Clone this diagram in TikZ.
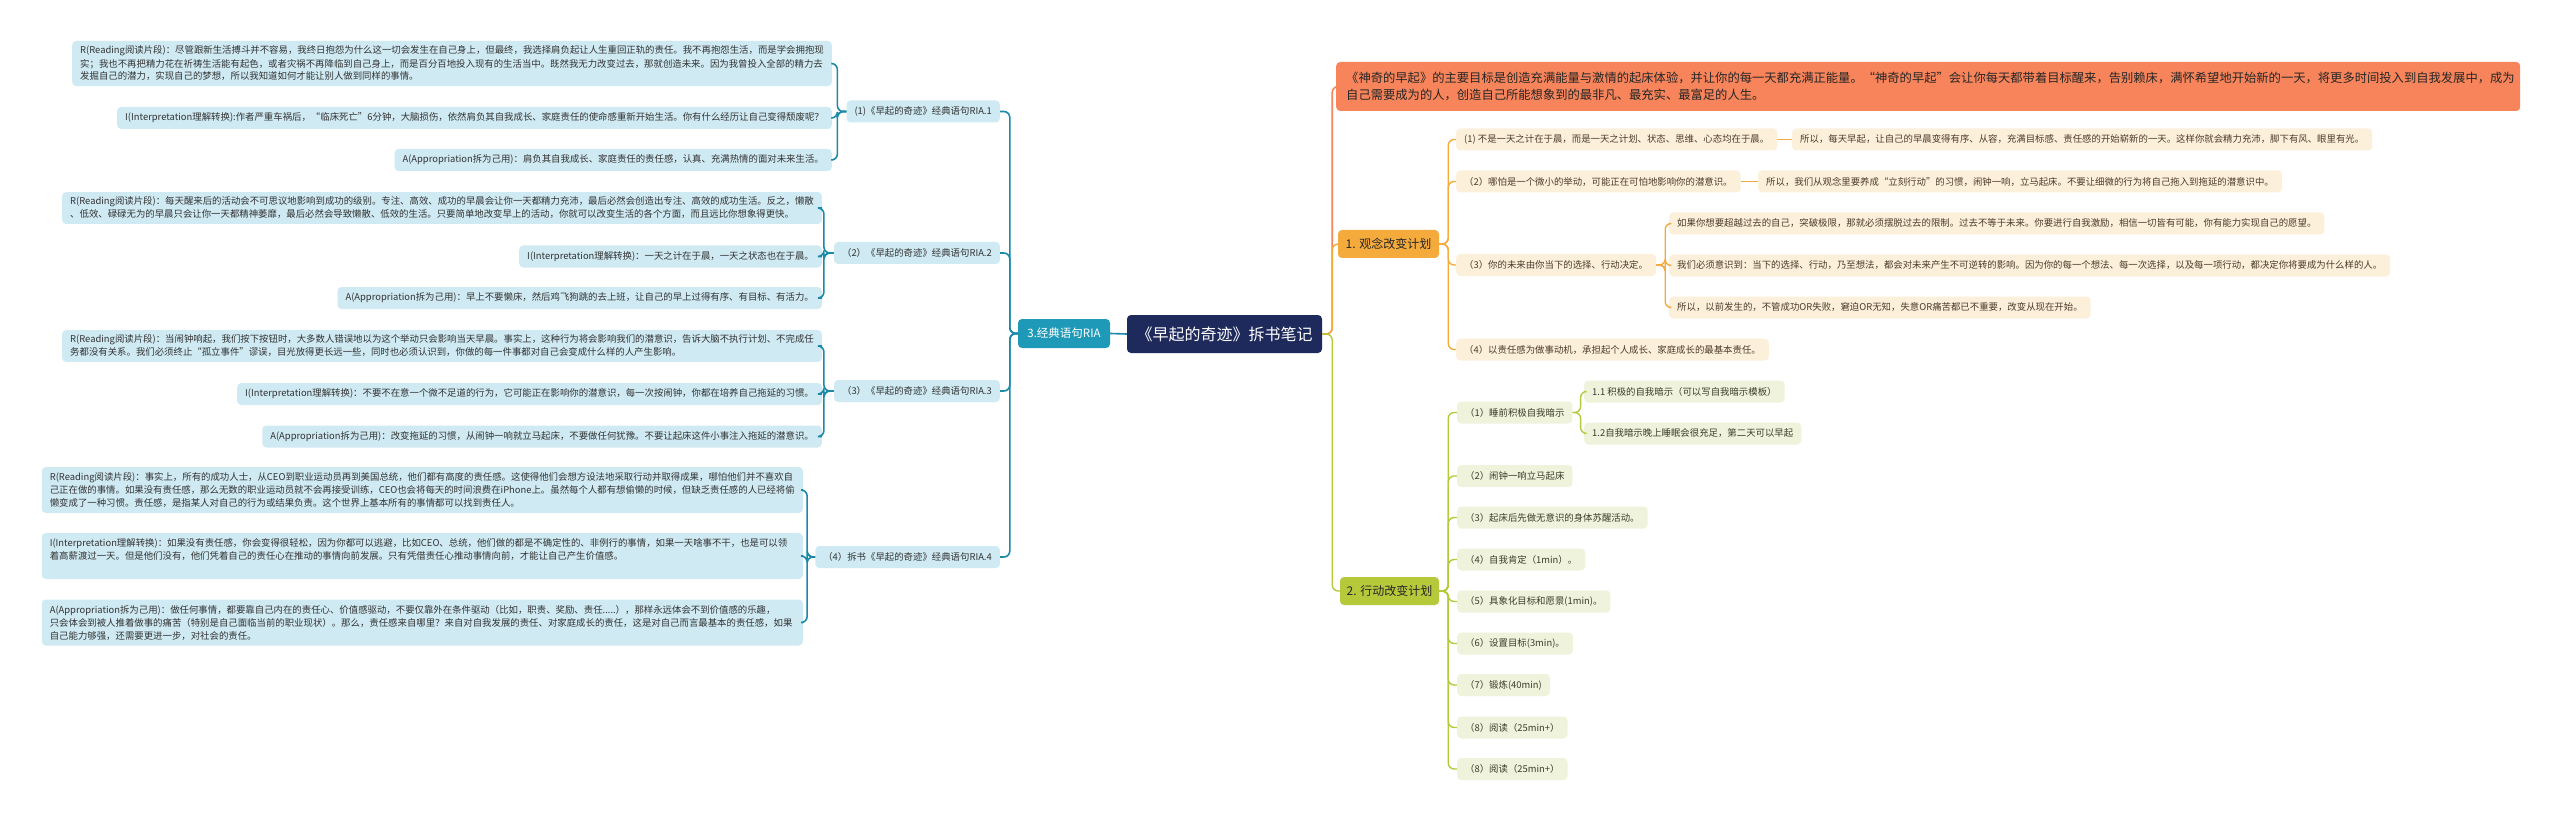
\documentclass[tikz,border=0pt]{standalone}
\usepackage{fontspec}
\newfontfamily\cjk{Noto Sans CJK SC}
\definecolor{cNavy}{HTML}{1F2A5C}
\definecolor{cTeal}{HTML}{1E9AB8}
\definecolor{cTealLine}{HTML}{1A8AA8}
\definecolor{cLeafBlue}{HTML}{CFEAF3}
\definecolor{cCoral}{HTML}{F7845A}
\definecolor{cAmber}{HTML}{F5AA3C}
\definecolor{cCream}{HTML}{FDF0DB}
\definecolor{cOlive}{HTML}{B5C93A}
\definecolor{cOliveLeaf}{HTML}{EFF3DC}
\definecolor{cTextB}{HTML}{333333}
\definecolor{cTextO}{HTML}{4A3B2A}
\definecolor{cTextG}{HTML}{3D3D2A}
\tikzset{
  nbox/.style={rounded corners=4pt, inner xsep=8pt, inner ysep=5pt, align=left},
  fs/.style={font=\cjk\fontsize{9.4}{13}\selectfont},
  leafB/.style={nbox, fs, fill=cLeafBlue, text=cTextB, minimum height=22pt},
  leafO/.style={nbox, fs, fill=cCream, text=cTextO, minimum height=22pt},
  leafG/.style={nbox, fs, fill=cOliveLeaf, text=cTextG, minimum height=22pt},
  lineT/.style={draw=cTealLine, line width=1.6pt, rounded corners=6pt},
  lineC/.style={draw=cCoral, line width=1.6pt, rounded corners=6pt},
  lineO/.style={draw=cAmber, line width=1.4pt, rounded corners=6pt},
  lineG/.style={draw=cOlive, line width=1.4pt, rounded corners=6pt},
}
\begin{document}
\begin{tikzpicture}[x=1pt,y=-1pt]
\useasboundingbox (0,0) rectangle (2560,821);
\fill[white] (0,0) rectangle (2560,821);

% ---------- centre ----------
\node[nbox, fill=cNavy, text=white, font=\cjk\fontsize{16}{19}\selectfont, minimum width=195pt, minimum height=38pt, align=center] (ctr) at (1224.5,334) {《早起的奇迹》拆书笔记};
\node[nbox, fill=cTeal, text=white, font=\cjk\fontsize{11.5}{14}\selectfont, minimum width=92pt, minimum height=29pt, align=center, inner xsep=4pt] (t3) at (1064,333.5) {3.经典语句RIA};

% ---------- left labels ----------
\node[leafB, anchor=east] (l1) at (1000,111.5) {(1)《早起的奇迹》经典语句RIA.1};
\node[leafB, anchor=east] (l2) at (1000,253) {（2）《早起的奇迹》经典语句RIA.2};
\node[leafB, anchor=east] (l3) at (1000,391) {（3）《早起的奇迹》经典语句RIA.3};
\node[leafB, anchor=east] (l4) at (1000,557) {（4）拆书《早起的奇迹》经典语句RIA.4};

% group 1
\node[leafB, anchor=east] (g1r) at (832,63.5) {R(Reading阅读片段)：尽管跟新生活搏斗并不容易，我终日抱怨为什么这一切会发生在自己身上，但最终，我选择肩负起让人生重回正轨的责任。我不再抱怨生活，而是学会拥抱现\\实；我也不再把精力花在祈祷生活能有起色，或者灾祸不再降临到自己身上，而是百分百地投入现有的生活当中。既然我无力改变过去，那就创造未来。因为我曾投入全部的精力去\\发掘自己的潜力，实现自己的梦想，所以我知道如何才能让别人做到同样的事情。};
\node[leafB, anchor=east] (g1i) at (832,118) {I(Interpretation理解转换):作者严重车祸后，“临床死亡”6分钟，大脑损伤，依然肩负其自我成长、家庭责任的使命感重新开始生活。你有什么经历让自己变得颓废呢？};
\node[leafB, anchor=east] (g1a) at (832,160) {A(Appropriation拆为己用)：肩负其自我成长、家庭责任的责任感，认真、充满热情的面对未来生活。};

% group 2
\node[leafB, anchor=east] (g2r) at (822,208) {R(Reading阅读片段)：每天醒来后的活动会不可思议地影响到成功的级别。专注、高效、成功的早晨会让你一天都精力充沛，最后必然会创造出专注、高效的成功生活。反之，懒散\\、低效、碌碌无为的早晨只会让你一天都精神萎靡，最后必然会导致懒散、低效的生活。只要简单地改变早上的活动，你就可以改变生活的各个方面，而且远比你想象得更快。};
\node[leafB, anchor=east] (g2i) at (822,256.5) {I(Interpretation理解转换)：一天之计在于晨，一天之状态也在于晨。};
\node[leafB, anchor=east] (g2a) at (822,298) {A(Appropriation拆为己用)：早上不要懒床，然后鸡飞狗跳的去上班，让自己的早上过得有序、有目标、有活力。};

% group 3
\node[leafB, anchor=east] (g3r) at (822,346) {R(Reading阅读片段)：当闹钟响起，我们按下按钮时，大多数人错误地以为这个举动只会影响当天早晨。事实上，这种行为将会影响我们的潜意识，告诉大脑不执行计划、不完成任\\务都没有关系。我们必须终止“孤立事件”谬误，目光放得更长远一些，同时也必须认识到，你做的每一件事都对自己会变成什么样的人产生影响。};
\node[leafB, anchor=east] (g3i) at (822,394) {I(Interpretation理解转换)：不要不在意一个微不足道的行为，它可能正在影响你的潜意识，每一次按闹钟，你都在培养自己拖延的习惯。};
\node[leafB, anchor=east] (g3a) at (822,436.5) {A(Appropriation拆为己用)：改变拖延的习惯，从闹钟一响就立马起床，不要做任何犹豫。不要让起床这件小事注入拖延的潜意识。};

% group 4
\node[leafB, anchor=east, text width=745pt, minimum height=46pt] (g4r) at (803,490) {R(Reading阅读片段)：事实上，所有的成功人士，从CEO到职业运动员再到美国总统，他们都有高度的责任感。这使得他们会想方设法地采取行动并取得成果，哪怕他们并不喜欢自\\己正在做的事情。如果没有责任感，那么无数的职业运动员就不会再接受训练，CEO也会将每天的时间浪费在iPhone上。虽然每个人都有想偷懒的时候，但缺乏责任感的人已经将偷\\懒变成了一种习惯。责任感，是指某人对自己的行为或结果负责。这个世界上基本所有的事情都可以找到责任人。};
\node[leafB, anchor=east, text width=745pt, minimum height=46pt] (g4i) at (803,556) {I(Interpretation理解转换)：如果没有责任感，你会变得很轻松，因为你都可以逃避，比如CEO、总统，他们做的都是不确定性的、非例行的事情，如果一天啥事不干，也是可以领\\着高薪渡过一天。但是他们没有，他们凭着自己的责任心在推动的事情向前发展。只有凭借责任心推动事情向前，才能让自己产生价值感。\\\mbox{}};
\node[leafB, anchor=east, text width=745pt, minimum height=46pt] (g4a) at (803,622.5) {A(Appropriation拆为己用)：做任何事情，都要靠自己内在的责任心、价值感驱动，不要仅靠外在条件驱动（比如，职责、奖励、责任.....），那样永远体会不到价值感的乐趣，\\只会体会到被人推着做事的痛苦（特别是自己面临当前的职业现状）。那么，责任感来自哪里？来自对自我发展的责任、对家庭成长的责任，这是对自己而言最基本的责任感，如果\\自己能力够强，还需要更进一步，对社会的责任。};

% ---------- right side ----------
\node[nbox, anchor=west, fill=cCoral, text=black!85, font=\cjk\fontsize{12.3}{17}\selectfont, inner xsep=10pt, text width=1164pt, minimum height=49pt] (top) at (1336,86.5) {《神奇的早起》的主要目标是创造充满能量与激情的起床体验，并让你的每一天都充满正能量。“神奇的早起”会让你每天都带着目标醒来，告别赖床，满怀希望地开始新的一天，将更多时间投入到自我发展中，成为\\自己需要成为的人，创造自己所能想象到的最非凡、最充实、最富足的人生。};
\node[nbox, fill=cAmber, text=black!85, font=\cjk\fontsize{12}{14}\selectfont, minimum width=101pt, minimum height=28pt, align=center, inner xsep=4pt] (one) at (1388.5,244) {1. 观念改变计划};
\node[nbox, fill=cOlive, text=black!85, font=\cjk\fontsize{12}{14}\selectfont, minimum width=99pt, minimum height=28pt, align=center, inner xsep=4pt] (two) at (1389.5,591) {2. 行动改变计划};

\node[leafO, anchor=west] (p1) at (1456,139.5) {(1) 不是一天之计在于晨，而是一天之计划、状态、思维、心态均在于晨。};
\node[leafO, anchor=west] (p1c) at (1792,139.5) {所以，每天早起，让自己的早晨变得有序、从容，充满目标感、责任感的开始崭新的一天。这样你就会精力充沛，脚下有风、眼里有光。};
\node[leafO, anchor=west] (p2) at (1456,181.5) {（2）哪怕是一个微小的举动，可能正在可怕地影响你的潜意识。};
\node[leafO, anchor=west] (p2c) at (1758,181.5) {所以，我们从观念里要养成“立刻行动”的习惯，闹钟一响，立马起床。不要让细微的行为将自己拖入到拖延的潜意识中。};
\node[leafO, anchor=west] (p3) at (1456,265) {（3）你的未来由你当下的选择、行动决定。};
\node[leafO, anchor=west] (p3a) at (1669,223.5) {如果你想要超越过去的自己，突破极限，那就必须摆脱过去的限制。过去不等于未来。你要进行自我激励，相信一切皆有可能，你有能力实现自己的愿望。};
\node[leafO, anchor=west] (p3b) at (1669,265.5) {我们必须意识到：当下的选择、行动，乃至想法，都会对未来产生不可逆转的影响。因为你的每一个想法、每一次选择，以及每一项行动，都决定你将要成为什么样的人。};
\node[leafO, anchor=west] (p3c) at (1669,307.5) {所以，以前发生的，不管成功OR失败，窘迫OR无知，失意OR痛苦都已不重要，改变从现在开始。};
\node[leafO, anchor=west] (p4) at (1456,349.5) {（4）以责任感为做事动机，承担起个人成长、家庭成长的最基本责任。};

\node[leafG, anchor=west] (q1) at (1457,412.5) {（1）睡前积极自我暗示};
\node[leafG, anchor=west] (q11) at (1584,391.5) {1.1 积极的自我暗示（可以写自我暗示模板）};
\node[leafG, anchor=west] (q12) at (1584,433.5) {1.2自我暗示晚上睡眠会很充足，第二天可以早起};
\node[leafG, anchor=west] (q2) at (1457,476) {（2）闹钟一响立马起床};
\node[leafG, anchor=west] (q3) at (1457,517.5) {（3）起床后先做无意识的身体苏醒活动。};
\node[leafG, anchor=west] (q4) at (1457,559.5) {（4）自我肯定（1min）。};
\node[leafG, anchor=west] (q5) at (1457,601.5) {（5）具象化目标和愿景(1min)。};
\node[leafG, anchor=west] (q6) at (1457,643.5) {（6）设置目标(3min)。};
\node[leafG, anchor=west] (q7) at (1457,685) {（7）锻炼(40min)};
\node[leafG, anchor=west] (q8) at (1457,727.5) {（8）阅读（25min+）};
\node[leafG, anchor=west] (q9) at (1457,769) {（8）阅读（25min+）};

% ---------- connectors ----------
\draw[lineT] (ctr.west) -- (t3.east);
\foreach \n in {l1,l2,l3,l4} \draw[lineT] (t3.west) -- ++(-8,0) |- (\n.east);
\foreach \n in {g1r,g1i,g1a} \draw[lineT] (l1.west) -- ++(-9,0) |- (\n.east);
\foreach \n in {g2r,g2i,g2a} \draw[lineT] (l2.west) -- ++(-10,0) |- (\n.east);
\foreach \n in {g3r,g3i,g3a} \draw[lineT] (l3.west) -- ++(-10,0) |- (\n.east);
\foreach \n in {g4r,g4i,g4a} \draw[lineT] (l4.west) -- ++(-8,0) |- (\n.east);

\draw[lineC] (ctr.east) -- ++(10,0) |- (top.west);
\draw[lineO] (ctr.east) -- ++(10,0) |- (one.west);
\draw[lineG] (ctr.east) -- ++(10,0) |- (two.west);

\foreach \n in {p1,p2,p3,p4} \draw[lineO] (one.east) -- ++(9,0) |- (\n.west);
\draw[lineO] (p1.east) -- (p1c.west);
\draw[lineO] (p2.east) -- (p2c.west);
\foreach \n in {p3a,p3b,p3c} \draw[lineO] (p3.east) -- ++(9,0) |- (\n.west);

\foreach \n in {q1,q2,q3,q4,q5,q6,q7,q8,q9} \draw[lineG] (two.east) -- ++(9,0) |- (\n.west);
\foreach \n in {q11,q12} \draw[lineG] (q1.east) -- ++(8,0) |- (\n.west);
\end{tikzpicture}
\end{document}
